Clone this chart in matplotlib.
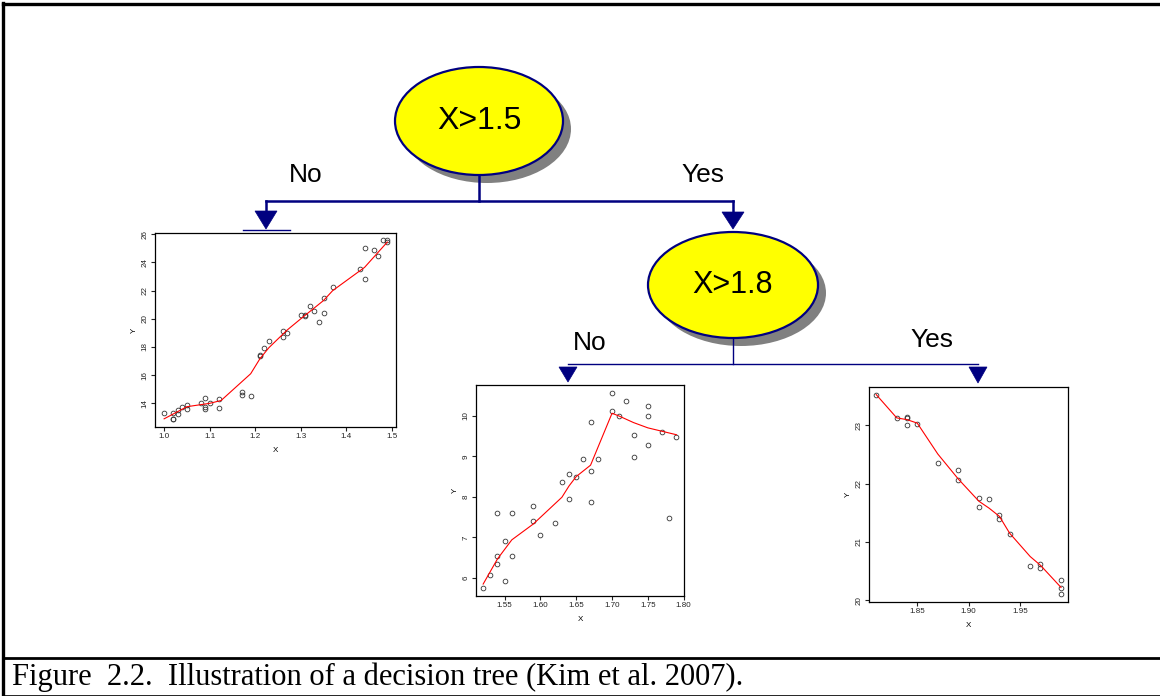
import numpy as np
import matplotlib.pyplot as plt
from matplotlib.patches import Ellipse, Polygon

# ---- data ----
# left leaf: X <= 1.5
x1 = [1.00, 1.02, 1.02, 1.02, 1.03, 1.03, 1.04, 1.05, 1.05, 1.08, 1.09, 1.09, 1.09, 1.10,
      1.12, 1.12, 1.17, 1.17, 1.19, 1.21, 1.21, 1.22, 1.23, 1.26, 1.26, 1.27, 1.30, 1.31,
      1.31, 1.32, 1.33, 1.34, 1.35, 1.35, 1.37, 1.43, 1.44, 1.44, 1.46, 1.47, 1.48, 1.49, 1.49]
y1 = [13.3, 13.3, 12.9, 12.9, 13.5, 13.25, 13.75, 13.9, 13.6, 14.0, 14.4, 13.75, 13.6, 14.0,
      14.3, 13.7, 14.8, 14.6, 14.5, 17.4, 17.35, 17.9, 18.45, 19.1, 18.7, 19.0, 20.3, 20.25,
      20.2, 20.9, 20.55, 19.75, 20.4, 21.5, 22.25, 23.55, 25.0, 22.8, 24.9, 24.45, 25.6, 25.6, 25.45]
fit1_x = [1.00, 1.05, 1.10, 1.125, 1.19, 1.21, 1.23, 1.27, 1.30, 1.35, 1.37, 1.44, 1.49]
fit1_y = [12.9, 13.76, 14.0, 14.2, 16.1, 17.15, 17.95, 19.2, 20.0, 21.3, 22.0, 23.65, 25.45]

# middle leaf: 1.5 < X <= 1.8
x2 = [1.52, 1.53, 1.54, 1.54, 1.54, 1.55, 1.55, 1.56, 1.56, 1.59, 1.59, 1.60, 1.62, 1.63,
      1.64, 1.64, 1.65, 1.66, 1.67, 1.67, 1.67, 1.68, 1.70, 1.70, 1.71, 1.72, 1.73, 1.73,
      1.75, 1.75, 1.75, 1.77, 1.78, 1.79]
y2 = [5.76, 6.08, 7.59, 6.55, 6.34, 6.90, 5.93, 7.59, 6.55, 7.78, 7.41, 7.07, 7.36, 8.37,
      8.57, 7.95, 8.50, 8.92, 9.84, 8.64, 7.88, 8.94, 10.57, 10.12, 10.0, 10.37, 9.53, 8.97,
      10.25, 10.0, 9.28, 9.60, 7.49, 9.48]
fit2_x = [1.52, 1.54, 1.56, 1.59, 1.63, 1.64, 1.65, 1.67, 1.70, 1.71, 1.73, 1.75, 1.79]
fit2_y = [5.85, 6.47, 6.94, 7.33, 7.99, 8.27, 8.50, 8.78, 10.06, 9.99, 9.83, 9.70, 9.53]

# right leaf: X > 1.8
x3 = [1.81, 1.83, 1.84, 1.84, 1.84, 1.85, 1.87, 1.89, 1.89, 1.91, 1.91, 1.92, 1.93, 1.93,
      1.94, 1.96, 1.97, 1.97, 1.99, 1.99, 1.99]
y3 = [23.53, 23.12, 23.15, 23.12, 23.01, 23.03, 22.35, 22.24, 22.07, 21.76, 21.60, 21.74,
      21.46, 21.40, 21.13, 20.59, 20.63, 20.55, 20.34, 20.21, 20.11]
fit3_x = [1.81, 1.83, 1.84, 1.85, 1.87, 1.89, 1.91, 1.92, 1.93, 1.94, 1.96, 1.97, 1.99]
fit3_y = [23.53, 23.13, 23.10, 23.04, 22.51, 22.08, 21.70, 21.58, 21.44, 21.15, 20.75, 20.60, 20.22]

xticks1 = [1.0, 1.1, 1.2, 1.3, 1.4, 1.5]
yticks1 = [14, 16, 18, 20, 22, 24, 26]
xticks2 = [1.55, 1.60, 1.65, 1.70, 1.75, 1.80]
yticks2 = [6, 7, 8, 9, 10]
xticks3 = [1.85, 1.90, 1.95]
yticks3 = [20, 21, 22, 23]

node_labels = ["X>1.5", "X>1.8"]
branch_labels = ["No", "Yes"]
caption = "Figure  2.2.  Illustration of a decision tree (Kim et al. 2007)."

W, H = 1160, 696
NAVY = '#000080'
plt.rcParams['font.family'] = ['Liberation Sans', 'DejaVu Sans']

fig = plt.figure(figsize=(W / 100, H / 100), dpi=100)
ax0 = fig.add_axes([0, 0, 1, 1])
ax0.set_xlim(0, W)
ax0.set_ylim(H, 0)
ax0.axis('off')

# frame + caption row
ax0.plot([3, 3], [3, H], color='black', lw=2.4)
ax0.plot([3, W], [4, 4], color='black', lw=2.4)
ax0.plot([3, W], [658, 658], color='black', lw=2.0)
ax0.plot([3, W], [695.5, 695.5], color='black', lw=1.2)
ax0.text(12, 677, caption, family=['Liberation Serif', 'DejaVu Serif'], fontsize=22,
         va='center', ha='left')


def node(cx, cy, w, h, label, fs):
    ax0.add_patch(Ellipse((cx + 8, cy + 8), w, h, facecolor='#808080', edgecolor='none'))
    ax0.add_patch(Ellipse((cx, cy), w, h, facecolor='yellow', edgecolor=NAVY, lw=1.6))
    ax0.text(cx, cy, label, fontsize=fs, ha='center', va='center')


def arrow(x, y0, y1, hw):
    ax0.add_patch(Polygon([[x - hw, y0], [x + hw, y0], [x, y1]], closed=True,
                          facecolor=NAVY, edgecolor=NAVY, lw=0.5))


# first split
node(479, 121, 168, 108, node_labels[0], 23)
ax0.plot([479, 479], [175, 201], color=NAVY, lw=1.8)
ax0.plot([266, 733], [201, 201], color=NAVY, lw=1.8)
ax0.plot([266, 266], [201, 212], color=NAVY, lw=1.8)
ax0.plot([733, 733], [201, 213], color=NAVY, lw=1.8)
arrow(266, 211, 229, 11)
arrow(733, 212, 229, 11)
ax0.plot([243, 290], [230, 230], color=NAVY, lw=1.0)
ax0.text(306, 175, branch_labels[0], fontsize=19, ha='center', va='center')
ax0.text(703, 175, branch_labels[1], fontsize=19, ha='center', va='center')

# second split
node(733, 285, 170, 106, node_labels[1], 22)
ax0.plot([733, 733], [338, 364], color=NAVY, lw=1.0)
ax0.plot([568, 978], [364, 364], color=NAVY, lw=1.0)
arrow(568, 367, 382, 9)
arrow(978, 367, 383, 9)
ax0.text(590, 343, branch_labels[0], fontsize=19, ha='center', va='center')
ax0.text(932, 340, branch_labels[1], fontsize=19, ha='center', va='center')


def leaf(box, x, y, fx, fy, xt, yt, xfmt, xlim, ylim):
    l, r, t, b = box
    ax = fig.add_axes([l / W, (H - b) / H, (r - l) / W, (b - t) / H])
    ax.plot(x, y, 'o', mfc='none', mec='#333333', ms=3.4, mew=0.6)
    ax.plot(fx, fy, color='red', lw=0.8)
    ax.set_xlim(*xlim)
    ax.set_ylim(*ylim)
    ax.set_xticks(xt)
    ax.set_xticklabels([xfmt.format(v) for v in xt])
    ax.set_yticks(yt)
    ax.set_yticklabels([str(v) for v in yt], rotation=90, va='center')
    ax.tick_params(labelsize=5.8, length=3, width=0.8, pad=1.5, colors='#222222')
    for s in ax.spines.values():
        s.set_linewidth(0.9)
    ax.set_xlabel('X', fontsize=5.8, labelpad=5)
    ax.set_ylabel('Y', fontsize=5.8, labelpad=3)
    return ax


leaf((155, 396, 233, 427), x1, y1, fit1_x, fit1_y, xticks1, yticks1, '{:.1f}',
     (0.98, 1.509), (12.32, 26.09))
leaf((476, 684, 385, 596), x2, y2, fit2_x, fit2_y, xticks2, yticks2, '{:.2f}',
     (1.51, 1.8005), (5.556, 10.756))
leaf((869, 1068, 387, 602), x3, y3, fit3_x, fit3_y, xticks3, yticks3, '{:.2f}',
     (1.803, 1.9968), (19.97, 23.66))

fig.savefig('out.png', dpi=100)
